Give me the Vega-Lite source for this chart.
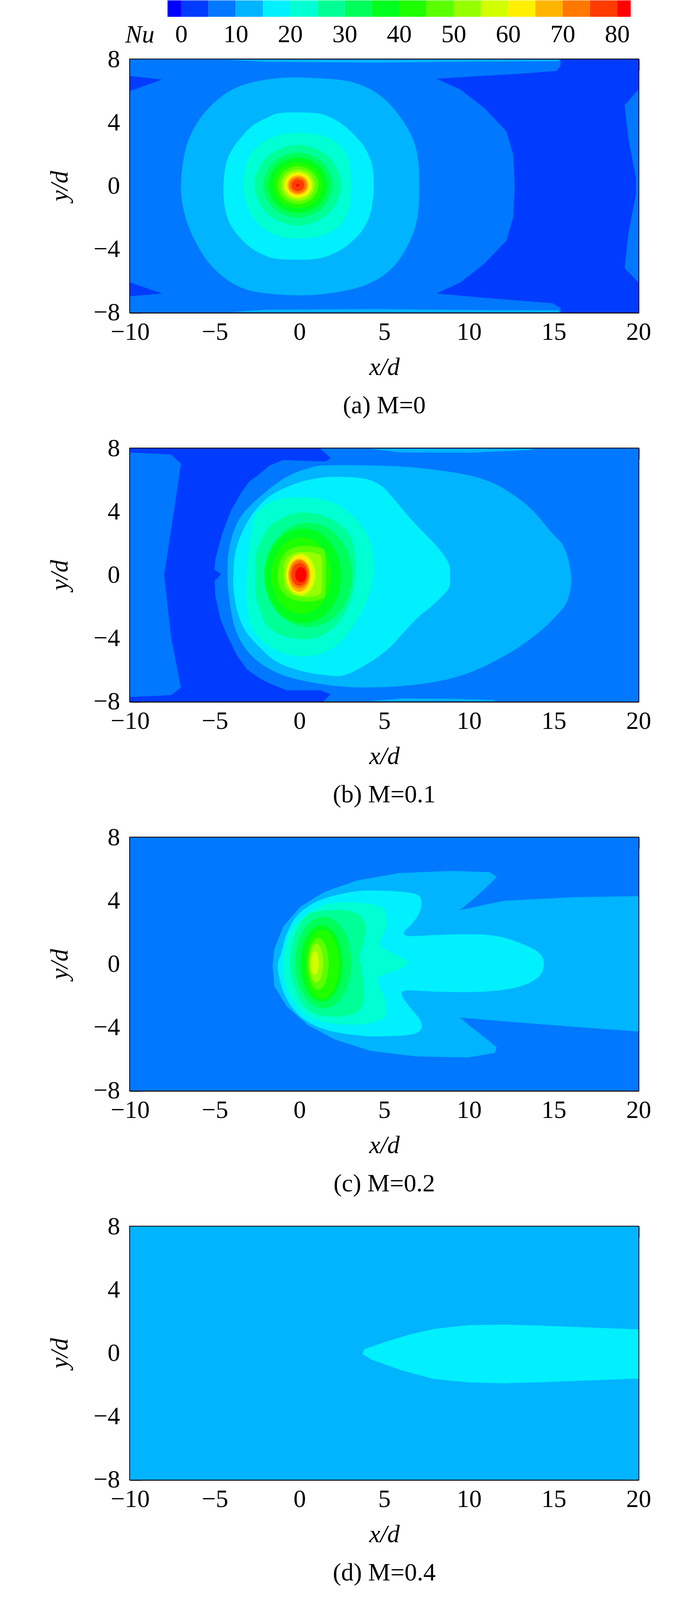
{
  "$schema": "https://vega.github.io/schema/vega-lite/v6.json",
  "padding": {"left": 119, "top": 1, "right": 40, "bottom": 0},
  "bounds": "flush",
  "spacing": 109,
  "config": {
    "font": "Liberation Serif",
    "view": {"stroke": "black", "strokeWidth": 4},
    "axis": {
      "labelFont": "Liberation Serif", "labelFontSize": 64, "labelColor": "black",
      "titleFont": "Liberation Serif", "titleFontSize": 64, "titleFontStyle": "italic", "titleFontWeight": "normal", "titleColor": "black",
      "domainColor": "black", "domainWidth": 4, "ticks": false,
      "grid": true, "gridColor": "black", "gridWidth": 4, "gridOpacity": 1,
      "labelFlush": false, "labelOverlap": false, "zindex": 1
    },
    "title": {"font": "Liberation Serif", "fontSize": 64, "fontWeight": "normal", "color": "black", "orient": "bottom", "frame": "group", "anchor": "middle", "offset": 35}
  },
  "datasets": {
    "gap": [{"v": 0}],
    "bar": [
      {"lo": -2.5, "hi": 0, "nu": -1.25}, {"lo": 0, "hi": 5, "nu": 2.5}, {"lo": 5, "hi": 10, "nu": 7.5},
      {"lo": 10, "hi": 15, "nu": 12.5}, {"lo": 15, "hi": 20, "nu": 17.5}, {"lo": 20, "hi": 25, "nu": 22.5},
      {"lo": 25, "hi": 30, "nu": 27.5}, {"lo": 30, "hi": 35, "nu": 32.5}, {"lo": 35, "hi": 40, "nu": 37.5},
      {"lo": 40, "hi": 45, "nu": 42.5}, {"lo": 45, "hi": 50, "nu": 47.5}, {"lo": 50, "hi": 55, "nu": 52.5},
      {"lo": 55, "hi": 60, "nu": 57.5}, {"lo": 60, "hi": 65, "nu": 62.5}, {"lo": 65, "hi": 70, "nu": 67.5},
      {"lo": 70, "hi": 75, "nu": 72.5}, {"lo": 75, "hi": 80, "nu": 77.5}, {"lo": 80, "hi": 82.5, "nu": 85}
    ],
    "a1": [
      {"id": "a01", "nu": 7.5, "x": -10, "y": 8}, {"id": "a01", "nu": 7.5, "x": 20, "y": 8}, {"id": "a01", "nu": 7.5, "x": 20, "y": -8}, {"id": "a01", "nu": 7.5, "x": -10, "y": -8},
      {"id": "a02", "nu": 2.5, "x": 8.07, "y": 6.77}, {"id": "a02", "nu": 2.5, "x": 10.67, "y": 6.95}, {"id": "a02", "nu": 2.5, "x": 13.03, "y": 7.09}, {"id": "a02", "nu": 2.5, "x": 15.16, "y": 7.27},
      {"id": "a02", "nu": 2.5, "x": 15.4, "y": 7.6}, {"id": "a02", "nu": 2.5, "x": 15.4, "y": 8}, {"id": "a02", "nu": 2.5, "x": 20, "y": 8}, {"id": "a02", "nu": 2.5, "x": 20, "y": -8},
      {"id": "a02", "nu": 2.5, "x": 15.4, "y": -8}, {"id": "a02", "nu": 2.5, "x": 15.4, "y": -7.7}, {"id": "a02", "nu": 2.5, "x": 14.9, "y": -7.41}, {"id": "a02", "nu": 2.5, "x": 10.67, "y": -7.05},
      {"id": "a02", "nu": 2.5, "x": 8.07, "y": -6.8}, {"id": "a02", "nu": 2.5, "x": 9.49, "y": -6.1}, {"id": "a02", "nu": 2.5, "x": 10.9, "y": -4.92}, {"id": "a02", "nu": 2.5, "x": 12.2, "y": -3.46},
      {"id": "a02", "nu": 2.5, "x": 12.6, "y": -2}, {"id": "a02", "nu": 2.5, "x": 12.7, "y": 0}, {"id": "a02", "nu": 2.5, "x": 12.6, "y": 2}, {"id": "a02", "nu": 2.5, "x": 12.2, "y": 3.46},
      {"id": "a02", "nu": 2.5, "x": 10.9, "y": 4.92}, {"id": "a02", "nu": 2.5, "x": 9.49, "y": 6.1},
      {"id": "a03", "nu": 7.5, "x": 20, "y": 6.1}, {"id": "a03", "nu": 7.5, "x": 19.18, "y": 5.1}, {"id": "a03", "nu": 7.5, "x": 19.4, "y": 3}, {"id": "a03", "nu": 7.5, "x": 19.85, "y": 0.5},
      {"id": "a03", "nu": 7.5, "x": 19.85, "y": -0.5}, {"id": "a03", "nu": 7.5, "x": 19.4, "y": -3}, {"id": "a03", "nu": 7.5, "x": 19.18, "y": -5.2}, {"id": "a03", "nu": 7.5, "x": 20, "y": -6.1},
      {"id": "a04", "nu": 2.5, "x": -10, "y": 6.95}, {"id": "a04", "nu": 2.5, "x": -8.1, "y": 6.73}, {"id": "a04", "nu": 2.5, "x": -10, "y": 6.0},
      {"id": "a05", "nu": 2.5, "x": -10, "y": -6.1}, {"id": "a05", "nu": 2.5, "x": -8.1, "y": -6.8}, {"id": "a05", "nu": 2.5, "x": -10, "y": -6.97},
      {"id": "a06", "nu": 12.5, "x": -4.2, "y": 7.97}, {"id": "a06", "nu": 12.5, "x": -2, "y": 7.84}, {"id": "a06", "nu": 12.5, "x": 4.5, "y": 7.79}, {"id": "a06", "nu": 12.5, "x": 10, "y": 7.85}, {"id": "a06", "nu": 12.5, "x": 15.3, "y": 7.88}, {"id": "a06", "nu": 12.5, "x": 15.3, "y": 7.97},
      {"id": "a07", "nu": 12.5, "x": -4, "y": -7.97}, {"id": "a07", "nu": 12.5, "x": -2, "y": -7.82}, {"id": "a07", "nu": 12.5, "x": 4.5, "y": -7.78}, {"id": "a07", "nu": 12.5, "x": 10, "y": -7.84}, {"id": "a07", "nu": 12.5, "x": 15.3, "y": -7.86}, {"id": "a07", "nu": 12.5, "x": 15.3, "y": -7.97}
    ],
    "a2": [
      {"id": "a10", "nu": 12.5, "x": -1.38, "y": 6.8}, {"id": "a10", "nu": 12.5, "x": 1.22, "y": 6.8}, {"id": "a10", "nu": 12.5, "x": 3.3, "y": 6.5}, {"id": "a10", "nu": 12.5, "x": 5.0, "y": 5.5},
      {"id": "a10", "nu": 12.5, "x": 6.42, "y": 3.55}, {"id": "a10", "nu": 12.5, "x": 7.0, "y": 1.6}, {"id": "a10", "nu": 12.5, "x": 7.0, "y": -1.6}, {"id": "a10", "nu": 12.5, "x": 6.5, "y": -3.5},
      {"id": "a10", "nu": 12.5, "x": 5.45, "y": -5.2}, {"id": "a10", "nu": 12.5, "x": 3.8, "y": -6.3}, {"id": "a10", "nu": 12.5, "x": 1.22, "y": -6.85}, {"id": "a10", "nu": 12.5, "x": -1.38, "y": -6.85},
      {"id": "a10", "nu": 12.5, "x": -3.5, "y": -6.4}, {"id": "a10", "nu": 12.5, "x": -5.16, "y": -5.1}, {"id": "a10", "nu": 12.5, "x": -6.34, "y": -3.1}, {"id": "a10", "nu": 12.5, "x": -6.93, "y": -1.0},
      {"id": "a10", "nu": 12.5, "x": -6.93, "y": 1.1}, {"id": "a10", "nu": 12.5, "x": -6.46, "y": 3.14}, {"id": "a10", "nu": 12.5, "x": -5.39, "y": 4.89}, {"id": "a10", "nu": 12.5, "x": -3.74, "y": 6.21},
      {"id": "a11", "nu": 17.5, "x": -1.08, "y": 4.62}, {"id": "a11", "nu": 17.5, "x": 0.77, "y": 4.62}, {"id": "a11", "nu": 17.5, "x": 1.61, "y": 4.43}, {"id": "a11", "nu": 17.5, "x": 2.53, "y": 3.89},
      {"id": "a11", "nu": 17.5, "x": 3.3, "y": 3.13}, {"id": "a11", "nu": 17.5, "x": 3.92, "y": 2.29}, {"id": "a11", "nu": 17.5, "x": 4.3, "y": 1.22}, {"id": "a11", "nu": 17.5, "x": 4.38, "y": 0},
      {"id": "a11", "nu": 17.5, "x": 4.34, "y": -0.76}, {"id": "a11", "nu": 17.5, "x": 4.15, "y": -1.83}, {"id": "a11", "nu": 17.5, "x": 3.69, "y": -2.82}, {"id": "a11", "nu": 17.5, "x": 3.0, "y": -3.59},
      {"id": "a11", "nu": 17.5, "x": 2.15, "y": -4.2}, {"id": "a11", "nu": 17.5, "x": 0.92, "y": -4.62}, {"id": "a11", "nu": 17.5, "x": -1.23, "y": -4.62}, {"id": "a11", "nu": 17.5, "x": -2.3, "y": -4.27},
      {"id": "a11", "nu": 17.5, "x": -3.07, "y": -3.74}, {"id": "a11", "nu": 17.5, "x": -3.69, "y": -3.05}, {"id": "a11", "nu": 17.5, "x": -4.15, "y": -2.29}, {"id": "a11", "nu": 17.5, "x": -4.42, "y": -1.3},
      {"id": "a11", "nu": 17.5, "x": -4.49, "y": 0}, {"id": "a11", "nu": 17.5, "x": -4.34, "y": 1.37}, {"id": "a11", "nu": 17.5, "x": -3.99, "y": 2.29}, {"id": "a11", "nu": 17.5, "x": -3.46, "y": 3.05},
      {"id": "a11", "nu": 17.5, "x": -2.76, "y": 3.82}, {"id": "a11", "nu": 17.5, "x": -1.84, "y": 4.35},
      {"id": "a12", "nu": 22.5, "x": -0.61, "y": 3.32}, {"id": "a12", "nu": 22.5, "x": 0.61, "y": 3.32}, {"id": "a12", "nu": 22.5, "x": 1.69, "y": 3.05}, {"id": "a12", "nu": 22.5, "x": 2.46, "y": 2.44},
      {"id": "a12", "nu": 22.5, "x": 2.92, "y": 1.53}, {"id": "a12", "nu": 22.5, "x": 3.03, "y": 0}, {"id": "a12", "nu": 22.5, "x": 2.92, "y": -1.37}, {"id": "a12", "nu": 22.5, "x": 2.46, "y": -2.37},
      {"id": "a12", "nu": 22.5, "x": 1.69, "y": -2.98}, {"id": "a12", "nu": 22.5, "x": 0.61, "y": -3.28}, {"id": "a12", "nu": 22.5, "x": -0.61, "y": -3.28}, {"id": "a12", "nu": 22.5, "x": -1.69, "y": -2.98},
      {"id": "a12", "nu": 22.5, "x": -2.53, "y": -2.29}, {"id": "a12", "nu": 22.5, "x": -3.07, "y": -1.37}, {"id": "a12", "nu": 22.5, "x": -3.3, "y": 0}, {"id": "a12", "nu": 22.5, "x": -3.15, "y": 1.37},
      {"id": "a12", "nu": 22.5, "x": -2.61, "y": 2.37}, {"id": "a12", "nu": 22.5, "x": -1.69, "y": 3.05},
      {"id": "a13", "nu": 27.5, "x": 2.45, "y": 0.05}, {"id": "a13", "nu": 27.5, "x": 1.7, "y": 1.85}, {"id": "a13", "nu": 27.5, "x": -0.1, "y": 2.6}, {"id": "a13", "nu": 27.5, "x": -1.9, "y": 1.85},
      {"id": "a13", "nu": 27.5, "x": -2.65, "y": 0.05}, {"id": "a13", "nu": 27.5, "x": -1.9, "y": -1.75}, {"id": "a13", "nu": 27.5, "x": -0.1, "y": -2.5}, {"id": "a13", "nu": 27.5, "x": 1.7, "y": -1.75},
      {"id": "a14", "nu": 32.5, "x": 1.95, "y": 0.05}, {"id": "a14", "nu": 32.5, "x": 1.35, "y": 1.5}, {"id": "a14", "nu": 32.5, "x": -0.1, "y": 2.1}, {"id": "a14", "nu": 32.5, "x": -1.55, "y": 1.5},
      {"id": "a14", "nu": 32.5, "x": -2.15, "y": 0.05}, {"id": "a14", "nu": 32.5, "x": -1.55, "y": -1.4}, {"id": "a14", "nu": 32.5, "x": -0.1, "y": -2.0}, {"id": "a14", "nu": 32.5, "x": 1.35, "y": -1.4},
      {"id": "a15", "nu": 37.5, "x": 1.65, "y": 0.05}, {"id": "a15", "nu": 37.5, "x": 1.14, "y": 1.29}, {"id": "a15", "nu": 37.5, "x": -0.1, "y": 1.8}, {"id": "a15", "nu": 37.5, "x": -1.34, "y": 1.29},
      {"id": "a15", "nu": 37.5, "x": -1.85, "y": 0.05}, {"id": "a15", "nu": 37.5, "x": -1.34, "y": -1.19}, {"id": "a15", "nu": 37.5, "x": -0.1, "y": -1.7}, {"id": "a15", "nu": 37.5, "x": 1.14, "y": -1.19},
      {"id": "a16", "nu": 42.5, "x": 1.35, "y": 0.05}, {"id": "a16", "nu": 42.5, "x": 0.93, "y": 1.08}, {"id": "a16", "nu": 42.5, "x": -0.1, "y": 1.5}, {"id": "a16", "nu": 42.5, "x": -1.13, "y": 1.08},
      {"id": "a16", "nu": 42.5, "x": -1.55, "y": 0.05}, {"id": "a16", "nu": 42.5, "x": -1.13, "y": -0.98}, {"id": "a16", "nu": 42.5, "x": -0.1, "y": -1.4}, {"id": "a16", "nu": 42.5, "x": 0.93, "y": -0.98},
      {"id": "a17", "nu": 47.5, "x": 1.1, "y": 0.05}, {"id": "a17", "nu": 47.5, "x": 0.75, "y": 0.9}, {"id": "a17", "nu": 47.5, "x": -0.1, "y": 1.25}, {"id": "a17", "nu": 47.5, "x": -0.95, "y": 0.9},
      {"id": "a17", "nu": 47.5, "x": -1.3, "y": 0.05}, {"id": "a17", "nu": 47.5, "x": -0.95, "y": -0.8}, {"id": "a17", "nu": 47.5, "x": -0.1, "y": -1.15}, {"id": "a17", "nu": 47.5, "x": 0.75, "y": -0.8},
      {"id": "a18", "nu": 52.5, "x": 0.9, "y": 0.05}, {"id": "a18", "nu": 52.5, "x": 0.61, "y": 0.76}, {"id": "a18", "nu": 52.5, "x": -0.1, "y": 1.05}, {"id": "a18", "nu": 52.5, "x": -0.81, "y": 0.76},
      {"id": "a18", "nu": 52.5, "x": -1.1, "y": 0.05}, {"id": "a18", "nu": 52.5, "x": -0.81, "y": -0.66}, {"id": "a18", "nu": 52.5, "x": -0.1, "y": -0.95}, {"id": "a18", "nu": 52.5, "x": 0.61, "y": -0.66},
      {"id": "a19", "nu": 57.5, "x": 0.75, "y": 0.05}, {"id": "a19", "nu": 57.5, "x": 0.5, "y": 0.65}, {"id": "a19", "nu": 57.5, "x": -0.1, "y": 0.9}, {"id": "a19", "nu": 57.5, "x": -0.7, "y": 0.65},
      {"id": "a19", "nu": 57.5, "x": -0.95, "y": 0.05}, {"id": "a19", "nu": 57.5, "x": -0.7, "y": -0.55}, {"id": "a19", "nu": 57.5, "x": -0.1, "y": -0.8}, {"id": "a19", "nu": 57.5, "x": 0.5, "y": -0.55},
      {"id": "a20", "nu": 62.5, "x": 0.65, "y": 0.05}, {"id": "a20", "nu": 62.5, "x": 0.43, "y": 0.58}, {"id": "a20", "nu": 62.5, "x": -0.1, "y": 0.8}, {"id": "a20", "nu": 62.5, "x": -0.63, "y": 0.58},
      {"id": "a20", "nu": 62.5, "x": -0.85, "y": 0.05}, {"id": "a20", "nu": 62.5, "x": -0.63, "y": -0.48}, {"id": "a20", "nu": 62.5, "x": -0.1, "y": -0.7}, {"id": "a20", "nu": 62.5, "x": 0.43, "y": -0.48},
      {"id": "a21", "nu": 67.5, "x": 0.52, "y": 0.05}, {"id": "a21", "nu": 67.5, "x": 0.34, "y": 0.49}, {"id": "a21", "nu": 67.5, "x": -0.1, "y": 0.67}, {"id": "a21", "nu": 67.5, "x": -0.54, "y": 0.49},
      {"id": "a21", "nu": 67.5, "x": -0.72, "y": 0.05}, {"id": "a21", "nu": 67.5, "x": -0.54, "y": -0.39}, {"id": "a21", "nu": 67.5, "x": -0.1, "y": -0.57}, {"id": "a21", "nu": 67.5, "x": 0.34, "y": -0.39},
      {"id": "a22", "nu": 72.5, "x": 0.42, "y": 0.05}, {"id": "a22", "nu": 72.5, "x": 0.27, "y": 0.42}, {"id": "a22", "nu": 72.5, "x": -0.1, "y": 0.57}, {"id": "a22", "nu": 72.5, "x": -0.47, "y": 0.42},
      {"id": "a22", "nu": 72.5, "x": -0.62, "y": 0.05}, {"id": "a22", "nu": 72.5, "x": -0.47, "y": -0.32}, {"id": "a22", "nu": 72.5, "x": -0.1, "y": -0.47}, {"id": "a22", "nu": 72.5, "x": 0.27, "y": -0.32},
      {"id": "a23", "nu": 77.5, "x": 0.28, "y": 0.05}, {"id": "a23", "nu": 77.5, "x": 0.17, "y": 0.32}, {"id": "a23", "nu": 77.5, "x": -0.1, "y": 0.43}, {"id": "a23", "nu": 77.5, "x": -0.37, "y": 0.32},
      {"id": "a23", "nu": 77.5, "x": -0.48, "y": 0.05}, {"id": "a23", "nu": 77.5, "x": -0.37, "y": -0.22}, {"id": "a23", "nu": 77.5, "x": -0.1, "y": -0.33}, {"id": "a23", "nu": 77.5, "x": 0.17, "y": -0.22},
      {"id": "a24", "nu": 85, "x": 0.0, "y": 0.05}, {"id": "a24", "nu": 85, "x": -0.1, "y": 0.15}, {"id": "a24", "nu": 85, "x": -0.2, "y": 0.05}, {"id": "a24", "nu": 85, "x": -0.1, "y": -0.05}
    ],
    "b1": [
      {"id": "b01", "nu": 7.5, "x": -10, "y": 8}, {"id": "b01", "nu": 7.5, "x": 20, "y": 8}, {"id": "b01", "nu": 7.5, "x": 20, "y": -8}, {"id": "b01", "nu": 7.5, "x": -10, "y": -8},
      {"id": "b02", "nu": 2.5, "x": -10, "y": 8}, {"id": "b02", "nu": 2.5, "x": 1.22, "y": 8}, {"id": "b02", "nu": 2.5, "x": 1.84, "y": 7.39}, {"id": "b02", "nu": 2.5, "x": 1.53, "y": 7.17},
      {"id": "b02", "nu": 2.5, "x": 0.5, "y": 7.21}, {"id": "b02", "nu": 2.5, "x": -0.95, "y": 7.27}, {"id": "b02", "nu": 2.5, "x": -1.78, "y": 6.92}, {"id": "b02", "nu": 2.5, "x": -2.4, "y": 6.35},
      {"id": "b02", "nu": 2.5, "x": -2.97, "y": 5.9}, {"id": "b02", "nu": 2.5, "x": -3.44, "y": 5.21}, {"id": "b02", "nu": 2.5, "x": -4.05, "y": 4.06}, {"id": "b02", "nu": 2.5, "x": -4.59, "y": 2.53},
      {"id": "b02", "nu": 2.5, "x": -4.97, "y": 1.0}, {"id": "b02", "nu": 2.5, "x": -5.02, "y": 0.35}, {"id": "b02", "nu": 2.5, "x": -4.63, "y": 0.05}, {"id": "b02", "nu": 2.5, "x": -5.01, "y": -0.38},
      {"id": "b02", "nu": 2.5, "x": -4.97, "y": -1.3}, {"id": "b02", "nu": 2.5, "x": -4.66, "y": -2.83}, {"id": "b02", "nu": 2.5, "x": -4.2, "y": -3.98}, {"id": "b02", "nu": 2.5, "x": -3.67, "y": -5.13},
      {"id": "b02", "nu": 2.5, "x": -3.1, "y": -5.97}, {"id": "b02", "nu": 2.5, "x": -2.4, "y": -6.5}, {"id": "b02", "nu": 2.5, "x": -1.78, "y": -6.85}, {"id": "b02", "nu": 2.5, "x": -0.75, "y": -7.29},
      {"id": "b02", "nu": 2.5, "x": 1.22, "y": -7.29}, {"id": "b02", "nu": 2.5, "x": 1.84, "y": -7.53}, {"id": "b02", "nu": 2.5, "x": 1.4, "y": -8}, {"id": "b02", "nu": 2.5, "x": -10, "y": -8},
      {"id": "b03", "nu": 7.5, "x": -10, "y": 7.74}, {"id": "b03", "nu": 7.5, "x": -7.58, "y": 7.62}, {"id": "b03", "nu": 7.5, "x": -7.0, "y": 7.03}, {"id": "b03", "nu": 7.5, "x": -7.37, "y": 4.32},
      {"id": "b03", "nu": 7.5, "x": -7.99, "y": 0}, {"id": "b03", "nu": 7.5, "x": -7.58, "y": -3.93}, {"id": "b03", "nu": 7.5, "x": -7.0, "y": -7.12}, {"id": "b03", "nu": 7.5, "x": -7.58, "y": -7.59},
      {"id": "b03", "nu": 7.5, "x": -10, "y": -7.71},
      {"id": "b04", "nu": 12.5, "x": 4.2, "y": 7.97}, {"id": "b04", "nu": 12.5, "x": 6, "y": 7.75}, {"id": "b04", "nu": 12.5, "x": 10, "y": 7.72}, {"id": "b04", "nu": 12.5, "x": 13.7, "y": 7.9}, {"id": "b04", "nu": 12.5, "x": 13.7, "y": 7.97},
      {"id": "b05", "nu": 12.5, "x": 4.2, "y": -7.97}, {"id": "b05", "nu": 12.5, "x": 6, "y": -7.8}, {"id": "b05", "nu": 12.5, "x": 9, "y": -7.82}, {"id": "b05", "nu": 12.5, "x": 11.5, "y": -7.9}, {"id": "b05", "nu": 12.5, "x": 11.5, "y": -7.97}
    ],
    "b2": [
      {"id": "b10", "nu": 12.5, "x": 1.74, "y": 6.94}, {"id": "b10", "nu": 12.5, "x": 5.88, "y": 6.86}, {"id": "b10", "nu": 12.5, "x": 8.99, "y": 6.5}, {"id": "b10", "nu": 12.5, "x": 11.06, "y": 5.97},
      {"id": "b10", "nu": 12.5, "x": 12.5, "y": 5.15}, {"id": "b10", "nu": 12.5, "x": 13.75, "y": 4.08}, {"id": "b10", "nu": 12.5, "x": 14.78, "y": 2.79}, {"id": "b10", "nu": 12.5, "x": 15.61, "y": 1.73},
      {"id": "b10", "nu": 12.5, "x": 16.02, "y": 0}, {"id": "b10", "nu": 12.5, "x": 15.82, "y": -1.58}, {"id": "b10", "nu": 12.5, "x": 14.99, "y": -2.75}, {"id": "b10", "nu": 12.5, "x": 13.75, "y": -3.93},
      {"id": "b10", "nu": 12.5, "x": 12.09, "y": -5.11}, {"id": "b10", "nu": 12.5, "x": 10.02, "y": -6.17}, {"id": "b10", "nu": 12.5, "x": 7.95, "y": -6.76}, {"id": "b10", "nu": 12.5, "x": 5.47, "y": -7.06},
      {"id": "b10", "nu": 12.5, "x": 2.57, "y": -7.06}, {"id": "b10", "nu": 12.5, "x": 0.08, "y": -6.65}, {"id": "b10", "nu": 12.5, "x": -1.57, "y": -6.06}, {"id": "b10", "nu": 12.5, "x": -2.82, "y": -5.11},
      {"id": "b10", "nu": 12.5, "x": -3.64, "y": -3.82}, {"id": "b10", "nu": 12.5, "x": -4.06, "y": -2.17}, {"id": "b10", "nu": 12.5, "x": -4.25, "y": 0}, {"id": "b10", "nu": 12.5, "x": -4.1, "y": 1.96},
      {"id": "b10", "nu": 12.5, "x": -3.44, "y": 3.73}, {"id": "b10", "nu": 12.5, "x": -1.99, "y": 5.26}, {"id": "b10", "nu": 12.5, "x": -0.75, "y": 6.21}, {"id": "b10", "nu": 12.5, "x": 0.5, "y": 6.74},
      {"id": "b11", "nu": 17.5, "x": 2.15, "y": 6.21}, {"id": "b11", "nu": 17.5, "x": 3.81, "y": 6.09}, {"id": "b11", "nu": 17.5, "x": 4.84, "y": 5.62}, {"id": "b11", "nu": 17.5, "x": 5.67, "y": 4.67},
      {"id": "b11", "nu": 17.5, "x": 6.5, "y": 3.61}, {"id": "b11", "nu": 17.5, "x": 7.33, "y": 2.67}, {"id": "b11", "nu": 17.5, "x": 8.16, "y": 1.73}, {"id": "b11", "nu": 17.5, "x": 8.78, "y": 0.78},
      {"id": "b11", "nu": 17.5, "x": 8.88, "y": 0}, {"id": "b11", "nu": 17.5, "x": 8.78, "y": -0.87}, {"id": "b11", "nu": 17.5, "x": 7.95, "y": -1.81}, {"id": "b11", "nu": 17.5, "x": 6.92, "y": -2.75},
      {"id": "b11", "nu": 17.5, "x": 6.09, "y": -3.7}, {"id": "b11", "nu": 17.5, "x": 5.26, "y": -4.64}, {"id": "b11", "nu": 17.5, "x": 4.22, "y": -5.47}, {"id": "b11", "nu": 17.5, "x": 2.77, "y": -6.29},
      {"id": "b11", "nu": 17.5, "x": 1.74, "y": -6.35}, {"id": "b11", "nu": 17.5, "x": 0.08, "y": -6.06}, {"id": "b11", "nu": 17.5, "x": -1.37, "y": -5.47}, {"id": "b11", "nu": 17.5, "x": -2.4, "y": -4.52},
      {"id": "b11", "nu": 17.5, "x": -3.23, "y": -3.46}, {"id": "b11", "nu": 17.5, "x": -3.7, "y": -2.17}, {"id": "b11", "nu": 17.5, "x": -3.9, "y": -0.87}, {"id": "b11", "nu": 17.5, "x": -3.9, "y": 0},
      {"id": "b11", "nu": 17.5, "x": -3.8, "y": 1.37}, {"id": "b11", "nu": 17.5, "x": -3.4, "y": 2.67}, {"id": "b11", "nu": 17.5, "x": -2.7, "y": 3.97}, {"id": "b11", "nu": 17.5, "x": -1.7, "y": 5.03},
      {"id": "b11", "nu": 17.5, "x": -0.33, "y": 5.74}, {"id": "b11", "nu": 17.5, "x": 0.91, "y": 6.09},
      {"id": "b12", "nu": 22.5, "x": -2.51, "y": 3.99}, {"id": "b12", "nu": 22.5, "x": -1.36, "y": 4.75}, {"id": "b12", "nu": 22.5, "x": 0.17, "y": 4.91}, {"id": "b12", "nu": 22.5, "x": 1.71, "y": 4.68},
      {"id": "b12", "nu": 22.5, "x": 2.86, "y": 3.99}, {"id": "b12", "nu": 22.5, "x": 3.78, "y": 2.91}, {"id": "b12", "nu": 22.5, "x": 4.24, "y": 1.77}, {"id": "b12", "nu": 22.5, "x": 4.36, "y": 0.62},
      {"id": "b12", "nu": 22.5, "x": 4.28, "y": -0.53}, {"id": "b12", "nu": 22.5, "x": 3.94, "y": -1.68}, {"id": "b12", "nu": 22.5, "x": 3.4, "y": -2.83}, {"id": "b12", "nu": 22.5, "x": 2.63, "y": -3.98},
      {"id": "b12", "nu": 22.5, "x": 1.71, "y": -4.75}, {"id": "b12", "nu": 22.5, "x": 0.56, "y": -5.13}, {"id": "b12", "nu": 22.5, "x": -0.59, "y": -5.05}, {"id": "b12", "nu": 22.5, "x": -1.67, "y": -4.59},
      {"id": "b12", "nu": 22.5, "x": -2.44, "y": -3.9}, {"id": "b12", "nu": 22.5, "x": -2.9, "y": -3.06}, {"id": "b12", "nu": 22.5, "x": -3.13, "y": -1.68}, {"id": "b12", "nu": 22.5, "x": -3.13, "y": -0.15},
      {"id": "b12", "nu": 22.5, "x": -3.01, "y": 1.38}, {"id": "b12", "nu": 22.5, "x": -2.82, "y": 2.69},
      {"id": "b13", "nu": 27.5, "x": 0.17, "y": 3.95}, {"id": "b13", "nu": 27.5, "x": 1.33, "y": 3.76}, {"id": "b13", "nu": 27.5, "x": 2.32, "y": 3.22}, {"id": "b13", "nu": 27.5, "x": 2.94, "y": 2.53},
      {"id": "b13", "nu": 27.5, "x": 3.25, "y": 1.38}, {"id": "b13", "nu": 27.5, "x": 3.28, "y": 0}, {"id": "b13", "nu": 27.5, "x": 3.09, "y": -1.3}, {"id": "b13", "nu": 27.5, "x": 2.71, "y": -2.3},
      {"id": "b13", "nu": 27.5, "x": 2.09, "y": -3.22}, {"id": "b13", "nu": 27.5, "x": 1.17, "y": -3.9}, {"id": "b13", "nu": 27.5, "x": 0.17, "y": -4.06}, {"id": "b13", "nu": 27.5, "x": -0.98, "y": -3.83},
      {"id": "b13", "nu": 27.5, "x": -1.9, "y": -3.22}, {"id": "b13", "nu": 27.5, "x": -2.3, "y": -2.3}, {"id": "b13", "nu": 27.5, "x": -2.6, "y": -1.15}, {"id": "b13", "nu": 27.5, "x": -2.62, "y": 0},
      {"id": "b13", "nu": 27.5, "x": -2.55, "y": 1.38}, {"id": "b13", "nu": 27.5, "x": -2.2, "y": 2.3}, {"id": "b13", "nu": 27.5, "x": -1.82, "y": 2.99}, {"id": "b13", "nu": 27.5, "x": -0.9, "y": 3.68},
      {"id": "b14", "nu": 32.5, "x": 3.1, "y": 0}, {"id": "b14", "nu": 32.5, "x": 2.75, "y": 1.65}, {"id": "b14", "nu": 32.5, "x": 1.8, "y": 2.86}, {"id": "b14", "nu": 32.5, "x": 0.5, "y": 3.3},
      {"id": "b14", "nu": 32.5, "x": -0.8, "y": 2.86}, {"id": "b14", "nu": 32.5, "x": -1.75, "y": 1.65}, {"id": "b14", "nu": 32.5, "x": -2.1, "y": 0}, {"id": "b14", "nu": 32.5, "x": -1.75, "y": -1.65},
      {"id": "b14", "nu": 32.5, "x": -0.8, "y": -2.86}, {"id": "b14", "nu": 32.5, "x": 0.5, "y": -3.3}, {"id": "b14", "nu": 32.5, "x": 1.8, "y": -2.86}, {"id": "b14", "nu": 32.5, "x": 2.75, "y": -1.65},
      {"id": "b15", "nu": 37.5, "x": 2.45, "y": -0.05}, {"id": "b15", "nu": 37.5, "x": 2.15, "y": 1.45}, {"id": "b15", "nu": 37.5, "x": 1.33, "y": 2.55}, {"id": "b15", "nu": 37.5, "x": 0.2, "y": 2.95},
      {"id": "b15", "nu": 37.5, "x": -0.93, "y": 2.55}, {"id": "b15", "nu": 37.5, "x": -1.75, "y": 1.45}, {"id": "b15", "nu": 37.5, "x": -2.05, "y": -0.05}, {"id": "b15", "nu": 37.5, "x": -1.75, "y": -1.55},
      {"id": "b15", "nu": 37.5, "x": -0.93, "y": -2.65}, {"id": "b15", "nu": 37.5, "x": 0.2, "y": -3.05}, {"id": "b15", "nu": 37.5, "x": 1.33, "y": -2.65}, {"id": "b15", "nu": 37.5, "x": 2.15, "y": -1.55},
      {"id": "b16", "nu": 42.5, "x": 1.87, "y": -0.03}, {"id": "b16", "nu": 42.5, "x": 1.63, "y": 1.18}, {"id": "b16", "nu": 42.5, "x": 0.99, "y": 2.07}, {"id": "b16", "nu": 42.5, "x": 0.1, "y": 2.39},
      {"id": "b16", "nu": 42.5, "x": -0.79, "y": 2.07}, {"id": "b16", "nu": 42.5, "x": -1.43, "y": 1.18}, {"id": "b16", "nu": 42.5, "x": -1.67, "y": -0.03}, {"id": "b16", "nu": 42.5, "x": -1.43, "y": -1.24},
      {"id": "b16", "nu": 42.5, "x": -0.79, "y": -2.13}, {"id": "b16", "nu": 42.5, "x": 0.1, "y": -2.45}, {"id": "b16", "nu": 42.5, "x": 0.99, "y": -2.13}, {"id": "b16", "nu": 42.5, "x": 1.63, "y": -1.24},
      {"id": "b17", "nu": 47.5, "x": 1.52, "y": 1.3}, {"id": "b17", "nu": 47.5, "x": 1.52, "y": -1.1}, {"id": "b17", "nu": 47.5, "x": 1.2, "y": -1.55}, {"id": "b17", "nu": 47.5, "x": 0.3, "y": -1.68},
      {"id": "b17", "nu": 47.5, "x": -0.6, "y": -1.45}, {"id": "b17", "nu": 47.5, "x": -1.15, "y": -0.8}, {"id": "b17", "nu": 47.5, "x": -1.28, "y": 0.1}, {"id": "b17", "nu": 47.5, "x": -1.1, "y": 1.0},
      {"id": "b17", "nu": 47.5, "x": -0.55, "y": 1.65}, {"id": "b17", "nu": 47.5, "x": 0.3, "y": 1.84}, {"id": "b17", "nu": 47.5, "x": 1.2, "y": 1.7},
      {"id": "b18", "nu": 52.5, "x": 1.3, "y": 1.0}, {"id": "b18", "nu": 52.5, "x": 1.3, "y": -0.9}, {"id": "b18", "nu": 52.5, "x": 1.0, "y": -1.3}, {"id": "b18", "nu": 52.5, "x": 0.2, "y": -1.38},
      {"id": "b18", "nu": 52.5, "x": -0.5, "y": -1.2}, {"id": "b18", "nu": 52.5, "x": -0.9, "y": -0.6}, {"id": "b18", "nu": 52.5, "x": -0.98, "y": 0.1}, {"id": "b18", "nu": 52.5, "x": -0.85, "y": 0.85},
      {"id": "b18", "nu": 52.5, "x": -0.4, "y": 1.35}, {"id": "b18", "nu": 52.5, "x": 0.3, "y": 1.46}, {"id": "b18", "nu": 52.5, "x": 1.0, "y": 1.35},
      {"id": "b19", "nu": 57.5, "x": 0.94, "y": 0.02}, {"id": "b19", "nu": 57.5, "x": 0.68, "y": 0.96}, {"id": "b19", "nu": 57.5, "x": 0.06, "y": 1.35}, {"id": "b19", "nu": 57.5, "x": -0.56, "y": 0.96},
      {"id": "b19", "nu": 57.5, "x": -0.82, "y": 0.02}, {"id": "b19", "nu": 57.5, "x": -0.56, "y": -0.92}, {"id": "b19", "nu": 57.5, "x": 0.06, "y": -1.31}, {"id": "b19", "nu": 57.5, "x": 0.68, "y": -0.92},
      {"id": "b20", "nu": 62.5, "x": 0.79, "y": 0.03}, {"id": "b20", "nu": 62.5, "x": 0.56, "y": 0.88}, {"id": "b20", "nu": 62.5, "x": 0.02, "y": 1.23}, {"id": "b20", "nu": 62.5, "x": -0.52, "y": 0.88},
      {"id": "b20", "nu": 62.5, "x": -0.75, "y": 0.03}, {"id": "b20", "nu": 62.5, "x": -0.52, "y": -0.82}, {"id": "b20", "nu": 62.5, "x": 0.02, "y": -1.17}, {"id": "b20", "nu": 62.5, "x": 0.56, "y": -0.82},
      {"id": "b21", "nu": 67.5, "x": 0.63, "y": -0.01}, {"id": "b21", "nu": 67.5, "x": 0.44, "y": 0.73}, {"id": "b21", "nu": 67.5, "x": -0.02, "y": 1.04}, {"id": "b21", "nu": 67.5, "x": -0.48, "y": 0.73},
      {"id": "b21", "nu": 67.5, "x": -0.67, "y": -0.01}, {"id": "b21", "nu": 67.5, "x": -0.48, "y": -0.75}, {"id": "b21", "nu": 67.5, "x": -0.02, "y": -1.06}, {"id": "b21", "nu": 67.5, "x": 0.44, "y": -0.75},
      {"id": "b22", "nu": 72.5, "x": 0.57, "y": 0.05}, {"id": "b22", "nu": 72.5, "x": 0.4, "y": 0.69}, {"id": "b22", "nu": 72.5, "x": -0.01, "y": 0.95}, {"id": "b22", "nu": 72.5, "x": -0.42, "y": 0.69},
      {"id": "b22", "nu": 72.5, "x": -0.59, "y": 0.05}, {"id": "b22", "nu": 72.5, "x": -0.42, "y": -0.59}, {"id": "b22", "nu": 72.5, "x": -0.01, "y": -0.85}, {"id": "b22", "nu": 72.5, "x": 0.4, "y": -0.59},
      {"id": "b23", "nu": 77.5, "x": 0.48, "y": 0.04}, {"id": "b23", "nu": 77.5, "x": 0.34, "y": 0.56}, {"id": "b23", "nu": 77.5, "x": 0, "y": 0.77}, {"id": "b23", "nu": 77.5, "x": -0.34, "y": 0.56},
      {"id": "b23", "nu": 77.5, "x": -0.48, "y": 0.04}, {"id": "b23", "nu": 77.5, "x": -0.34, "y": -0.48}, {"id": "b23", "nu": 77.5, "x": 0, "y": -0.69}, {"id": "b23", "nu": 77.5, "x": 0.34, "y": -0.48},
      {"id": "b24", "nu": 85, "x": 0.39, "y": 0.02}, {"id": "b24", "nu": 85, "x": 0.3, "y": 0.36}, {"id": "b24", "nu": 85, "x": 0.07, "y": 0.5}, {"id": "b24", "nu": 85, "x": -0.16, "y": 0.36},
      {"id": "b24", "nu": 85, "x": -0.25, "y": 0.02}, {"id": "b24", "nu": 85, "x": -0.16, "y": -0.32}, {"id": "b24", "nu": 85, "x": 0.07, "y": -0.46}, {"id": "b24", "nu": 85, "x": 0.3, "y": -0.32}
    ],
    "c1": [
      {"id": "c01", "nu": 7.5, "x": -10, "y": 8}, {"id": "c01", "nu": 7.5, "x": 20, "y": 8}, {"id": "c01", "nu": 7.5, "x": 20, "y": -8}, {"id": "c01", "nu": 7.5, "x": -10, "y": -8},
      {"id": "c02", "nu": 12.5, "x": 20, "y": 4.29}, {"id": "c02", "nu": 12.5, "x": 16.18, "y": 4.23}, {"id": "c02", "nu": 12.5, "x": 12.05, "y": 4.0}, {"id": "c02", "nu": 12.5, "x": 9.46, "y": 3.41},
      {"id": "c02", "nu": 12.5, "x": 10.39, "y": 4.23}, {"id": "c02", "nu": 12.5, "x": 11.22, "y": 5.05}, {"id": "c02", "nu": 12.5, "x": 11.63, "y": 5.52}, {"id": "c02", "nu": 12.5, "x": 11.22, "y": 5.81},
      {"id": "c02", "nu": 12.5, "x": 8.95, "y": 5.89}, {"id": "c02", "nu": 12.5, "x": 5.85, "y": 5.75}, {"id": "c02", "nu": 12.5, "x": 3.37, "y": 5.28}, {"id": "c02", "nu": 12.5, "x": 1.51, "y": 4.58},
      {"id": "c02", "nu": 12.5, "x": 0.06, "y": 3.64}, {"id": "c02", "nu": 12.5, "x": -0.97, "y": 2.36}, {"id": "c02", "nu": 12.5, "x": -1.49, "y": 0.95}, {"id": "c02", "nu": 12.5, "x": -1.59, "y": -0.1},
      {"id": "c02", "nu": 12.5, "x": -1.49, "y": -1.39}, {"id": "c02", "nu": 12.5, "x": -0.76, "y": -2.68}, {"id": "c02", "nu": 12.5, "x": 0.48, "y": -3.85}, {"id": "c02", "nu": 12.5, "x": 2.13, "y": -4.79},
      {"id": "c02", "nu": 12.5, "x": 4.19, "y": -5.49}, {"id": "c02", "nu": 12.5, "x": 6.88, "y": -5.84}, {"id": "c02", "nu": 12.5, "x": 9.98, "y": -5.9}, {"id": "c02", "nu": 12.5, "x": 11.53, "y": -5.61},
      {"id": "c02", "nu": 12.5, "x": 11.63, "y": -5.26}, {"id": "c02", "nu": 12.5, "x": 10.81, "y": -4.55}, {"id": "c02", "nu": 12.5, "x": 9.98, "y": -3.85}, {"id": "c02", "nu": 12.5, "x": 9.46, "y": -3.38},
      {"id": "c02", "nu": 12.5, "x": 12.05, "y": -3.62}, {"id": "c02", "nu": 12.5, "x": 16.18, "y": -3.97}, {"id": "c02", "nu": 12.5, "x": 20, "y": -4.26}
    ],
    "c2": [
      {"id": "c10", "nu": 17.5, "x": 3.78, "y": 4.64}, {"id": "c10", "nu": 17.5, "x": 5.85, "y": 4.58}, {"id": "c10", "nu": 17.5, "x": 6.88, "y": 4.41}, {"id": "c10", "nu": 17.5, "x": 7.19, "y": 4.0},
      {"id": "c10", "nu": 17.5, "x": 7.09, "y": 3.29}, {"id": "c10", "nu": 17.5, "x": 6.67, "y": 2.59}, {"id": "c10", "nu": 17.5, "x": 6.16, "y": 2.0}, {"id": "c10", "nu": 17.5, "x": 6.47, "y": 1.77},
      {"id": "c10", "nu": 17.5, "x": 7.91, "y": 1.83}, {"id": "c10", "nu": 17.5, "x": 9.98, "y": 1.89}, {"id": "c10", "nu": 17.5, "x": 11.63, "y": 1.77}, {"id": "c10", "nu": 17.5, "x": 13.08, "y": 1.3},
      {"id": "c10", "nu": 17.5, "x": 14.11, "y": 0.72}, {"id": "c10", "nu": 17.5, "x": 14.42, "y": 0.01}, {"id": "c10", "nu": 17.5, "x": 14.11, "y": -0.81}, {"id": "c10", "nu": 17.5, "x": 13.08, "y": -1.39},
      {"id": "c10", "nu": 17.5, "x": 11.63, "y": -1.68}, {"id": "c10", "nu": 17.5, "x": 9.98, "y": -1.77}, {"id": "c10", "nu": 17.5, "x": 7.91, "y": -1.74}, {"id": "c10", "nu": 17.5, "x": 6.26, "y": -1.68},
      {"id": "c10", "nu": 17.5, "x": 6.05, "y": -1.98}, {"id": "c10", "nu": 17.5, "x": 6.47, "y": -2.68}, {"id": "c10", "nu": 17.5, "x": 7.09, "y": -3.5}, {"id": "c10", "nu": 17.5, "x": 7.19, "y": -4.08},
      {"id": "c10", "nu": 17.5, "x": 6.67, "y": -4.44}, {"id": "c10", "nu": 17.5, "x": 5.43, "y": -4.55}, {"id": "c10", "nu": 17.5, "x": 3.78, "y": -4.55}, {"id": "c10", "nu": 17.5, "x": 1.71, "y": -4.2},
      {"id": "c10", "nu": 17.5, "x": 0.27, "y": -3.5}, {"id": "c10", "nu": 17.5, "x": -0.56, "y": -2.56}, {"id": "c10", "nu": 17.5, "x": -1.07, "y": -1.39}, {"id": "c10", "nu": 17.5, "x": -1.28, "y": -0.1},
      {"id": "c10", "nu": 17.5, "x": -1.07, "y": 0.72}, {"id": "c10", "nu": 17.5, "x": -0.76, "y": 1.89}, {"id": "c10", "nu": 17.5, "x": -0.14, "y": 3.06}, {"id": "c10", "nu": 17.5, "x": 0.89, "y": 3.88},
      {"id": "c10", "nu": 17.5, "x": 2.13, "y": 4.35},
      {"id": "c11", "nu": 22.5, "x": 2.13, "y": 3.88}, {"id": "c11", "nu": 22.5, "x": 3.78, "y": 3.85}, {"id": "c11", "nu": 22.5, "x": 4.81, "y": 3.59}, {"id": "c11", "nu": 22.5, "x": 5.12, "y": 3.06},
      {"id": "c11", "nu": 22.5, "x": 5.12, "y": 2.36}, {"id": "c11", "nu": 22.5, "x": 4.86, "y": 1.65}, {"id": "c11", "nu": 22.5, "x": 4.71, "y": 1.19}, {"id": "c11", "nu": 22.5, "x": 5.64, "y": 0.6},
      {"id": "c11", "nu": 22.5, "x": 6.36, "y": 0.13}, {"id": "c11", "nu": 22.5, "x": 5.85, "y": -0.34}, {"id": "c11", "nu": 22.5, "x": 4.71, "y": -0.81}, {"id": "c11", "nu": 22.5, "x": 4.71, "y": -1.39},
      {"id": "c11", "nu": 22.5, "x": 5.02, "y": -2.21}, {"id": "c11", "nu": 22.5, "x": 5.12, "y": -3.03}, {"id": "c11", "nu": 22.5, "x": 4.81, "y": -3.5}, {"id": "c11", "nu": 22.5, "x": 3.78, "y": -3.79},
      {"id": "c11", "nu": 22.5, "x": 2.13, "y": -3.79}, {"id": "c11", "nu": 22.5, "x": 0.89, "y": -3.5}, {"id": "c11", "nu": 22.5, "x": 0.06, "y": -2.91}, {"id": "c11", "nu": 22.5, "x": -0.56, "y": -1.98},
      {"id": "c11", "nu": 22.5, "x": -0.87, "y": -1.04}, {"id": "c11", "nu": 22.5, "x": -0.97, "y": -0.1}, {"id": "c11", "nu": 22.5, "x": -0.87, "y": 0.95}, {"id": "c11", "nu": 22.5, "x": -0.56, "y": 2.0},
      {"id": "c11", "nu": 22.5, "x": 0.06, "y": 2.82}, {"id": "c11", "nu": 22.5, "x": 0.99, "y": 3.53},
      {"id": "c12", "nu": 27.5, "x": 0.89, "y": 3.29}, {"id": "c12", "nu": 27.5, "x": 2.54, "y": 3.41}, {"id": "c12", "nu": 27.5, "x": 3.57, "y": 3.06}, {"id": "c12", "nu": 27.5, "x": 3.88, "y": 2.36},
      {"id": "c12", "nu": 27.5, "x": 3.78, "y": 1.42}, {"id": "c12", "nu": 27.5, "x": 3.57, "y": 0.48}, {"id": "c12", "nu": 27.5, "x": 3.68, "y": -0.45}, {"id": "c12", "nu": 27.5, "x": 3.78, "y": -1.39},
      {"id": "c12", "nu": 27.5, "x": 3.78, "y": -2.33}, {"id": "c12", "nu": 27.5, "x": 3.37, "y": -3.03}, {"id": "c12", "nu": 27.5, "x": 2.33, "y": -3.32}, {"id": "c12", "nu": 27.5, "x": 1.09, "y": -3.21},
      {"id": "c12", "nu": 27.5, "x": 0.27, "y": -2.68}, {"id": "c12", "nu": 27.5, "x": -0.25, "y": -1.63}, {"id": "c12", "nu": 27.5, "x": -0.56, "y": -0.22}, {"id": "c12", "nu": 27.5, "x": -0.45, "y": 1.19},
      {"id": "c12", "nu": 27.5, "x": -0.14, "y": 2.24}, {"id": "c12", "nu": 27.5, "x": 0.27, "y": 2.94},
      {"id": "c13", "nu": 32.5, "x": 3.05, "y": 0.1}, {"id": "c13", "nu": 32.5, "x": 2.83, "y": 1.55}, {"id": "c13", "nu": 32.5, "x": 2.23, "y": 2.61}, {"id": "c13", "nu": 32.5, "x": 1.4, "y": 3.0},
      {"id": "c13", "nu": 32.5, "x": 0.58, "y": 2.61}, {"id": "c13", "nu": 32.5, "x": -0.03, "y": 1.55}, {"id": "c13", "nu": 32.5, "x": -0.25, "y": 0.1}, {"id": "c13", "nu": 32.5, "x": -0.03, "y": -1.35},
      {"id": "c13", "nu": 32.5, "x": 0.58, "y": -2.41}, {"id": "c13", "nu": 32.5, "x": 1.4, "y": -2.8}, {"id": "c13", "nu": 32.5, "x": 2.23, "y": -2.41}, {"id": "c13", "nu": 32.5, "x": 2.83, "y": -1.35},
      {"id": "c14", "nu": 37.5, "x": 2.54, "y": 0.04}, {"id": "c14", "nu": 37.5, "x": 2.37, "y": 1.26}, {"id": "c14", "nu": 37.5, "x": 1.92, "y": 2.14}, {"id": "c14", "nu": 37.5, "x": 1.3, "y": 2.47},
      {"id": "c14", "nu": 37.5, "x": 0.68, "y": 2.14}, {"id": "c14", "nu": 37.5, "x": 0.23, "y": 1.26}, {"id": "c14", "nu": 37.5, "x": 0.06, "y": 0.04}, {"id": "c14", "nu": 37.5, "x": 0.23, "y": -1.18},
      {"id": "c14", "nu": 37.5, "x": 0.68, "y": -2.06}, {"id": "c14", "nu": 37.5, "x": 1.3, "y": -2.39}, {"id": "c14", "nu": 37.5, "x": 1.92, "y": -2.06}, {"id": "c14", "nu": 37.5, "x": 2.37, "y": -1.18},
      {"id": "c15", "nu": 42.5, "x": 2.33, "y": -0.02}, {"id": "c15", "nu": 42.5, "x": 2.2, "y": 1.08}, {"id": "c15", "nu": 42.5, "x": 1.83, "y": 1.89}, {"id": "c15", "nu": 42.5, "x": 1.33, "y": 2.18},
      {"id": "c15", "nu": 42.5, "x": 0.83, "y": 1.89}, {"id": "c15", "nu": 42.5, "x": 0.46, "y": 1.08}, {"id": "c15", "nu": 42.5, "x": 0.33, "y": -0.02}, {"id": "c15", "nu": 42.5, "x": 0.46, "y": -1.12},
      {"id": "c15", "nu": 42.5, "x": 0.83, "y": -1.93}, {"id": "c15", "nu": 42.5, "x": 1.33, "y": -2.22}, {"id": "c15", "nu": 42.5, "x": 1.83, "y": -1.93}, {"id": "c15", "nu": 42.5, "x": 2.2, "y": -1.12},
      {"id": "c16", "nu": 47.5, "x": 1.72, "y": 0.01}, {"id": "c16", "nu": 47.5, "x": 1.54, "y": 1.17}, {"id": "c16", "nu": 47.5, "x": 1.1, "y": 1.65}, {"id": "c16", "nu": 47.5, "x": 0.66, "y": 1.17},
      {"id": "c16", "nu": 47.5, "x": 0.48, "y": 0.01}, {"id": "c16", "nu": 47.5, "x": 0.66, "y": -1.15}, {"id": "c16", "nu": 47.5, "x": 1.1, "y": -1.63}, {"id": "c16", "nu": 47.5, "x": 1.54, "y": -1.15},
      {"id": "c17", "nu": 52.5, "x": 1.4, "y": 0.07}, {"id": "c17", "nu": 52.5, "x": 1.28, "y": 0.94}, {"id": "c17", "nu": 52.5, "x": 0.99, "y": 1.3}, {"id": "c17", "nu": 52.5, "x": 0.7, "y": 0.94},
      {"id": "c17", "nu": 52.5, "x": 0.58, "y": 0.07}, {"id": "c17", "nu": 52.5, "x": 0.7, "y": -0.8}, {"id": "c17", "nu": 52.5, "x": 0.99, "y": -1.16}, {"id": "c17", "nu": 52.5, "x": 1.28, "y": -0.8},
      {"id": "c18", "nu": 57.5, "x": 1.14, "y": 0.07}, {"id": "c18", "nu": 57.5, "x": 1.07, "y": 0.61}, {"id": "c18", "nu": 57.5, "x": 0.89, "y": 0.83}, {"id": "c18", "nu": 57.5, "x": 0.71, "y": 0.61},
      {"id": "c18", "nu": 57.5, "x": 0.64, "y": 0.07}, {"id": "c18", "nu": 57.5, "x": 0.71, "y": -0.47}, {"id": "c18", "nu": 57.5, "x": 0.89, "y": -0.69}, {"id": "c18", "nu": 57.5, "x": 1.07, "y": -0.47}
    ],
    "d1": [
      {"id": "d01", "nu": 12.5, "x": -10, "y": 8}, {"id": "d01", "nu": 12.5, "x": 20, "y": 8}, {"id": "d01", "nu": 12.5, "x": 20, "y": -8}, {"id": "d01", "nu": 12.5, "x": -10, "y": -8},
      {"id": "d02", "nu": 17.5, "x": 20, "y": 1.5}, {"id": "d02", "nu": 17.5, "x": 14.16, "y": 1.74}, {"id": "d02", "nu": 17.5, "x": 12.09, "y": 1.8}, {"id": "d02", "nu": 17.5, "x": 10.02, "y": 1.77},
      {"id": "d02", "nu": 17.5, "x": 7.95, "y": 1.54}, {"id": "d02", "nu": 17.5, "x": 6.5, "y": 1.18}, {"id": "d02", "nu": 17.5, "x": 5.05, "y": 0.71}, {"id": "d02", "nu": 17.5, "x": 3.81, "y": 0.24},
      {"id": "d02", "nu": 17.5, "x": 3.71, "y": -0.05}, {"id": "d02", "nu": 17.5, "x": 4.22, "y": -0.4}, {"id": "d02", "nu": 17.5, "x": 6.09, "y": -1.11}, {"id": "d02", "nu": 17.5, "x": 7.95, "y": -1.64},
      {"id": "d02", "nu": 17.5, "x": 10.02, "y": -1.85}, {"id": "d02", "nu": 17.5, "x": 12.09, "y": -1.91}, {"id": "d02", "nu": 17.5, "x": 14.16, "y": -1.84}, {"id": "d02", "nu": 17.5, "x": 20, "y": -1.61}
    ]
  },
  "vconcat": [
    {
      "width": 1302,
      "height": 42,
      "view": {"stroke": null},
      "data": {"name": "bar"},
      "mark": {"type": "rect"},
      "encoding": {
        "x": {
          "field": "lo", "type": "quantitative",
          "scale": {"domain": [-9.38, 83.93], "nice": false, "zero": false},
          "axis": {"values": [0, 10, 20, 30, 40, 50, 60, 70, 80], "grid": false, "domain": false, "labelPadding": 13,
                   "title": "Nu", "titleX": 62, "titleY": 65, "titleAlign": "right", "titleAnchor": "start", "titleBaseline": "alphabetic"}
        },
        "x2": {"field": "hi"},
        "color": {
          "field": "nu", "type": "quantitative", "legend": null,
          "scale": {"type": "threshold", "domain": [0, 5, 10, 15, 20, 25, 30, 35, 40, 45, 50, 55, 60, 65, 70, 75, 80],
                    "range": ["#0000ff", "#003cff", "#0078ff", "#00b4ff", "#00f0ff", "#00ffd2", "#00ff96", "#00ff5a", "#00ff1e", "#1eff00", "#5aff00", "#96ff00", "#d2ff00", "#fff000", "#ffb400", "#ff7800", "#ff3c00", "#ff0000"]}
        }
      }
    },
    {
      "width": 1302, "height": 648,
      "title": {"text": "(a) M=0"},
      "encoding": {
        "x": {"field": "x", "type": "quantitative", "scale": {"domain": [-10, 20], "nice": false, "zero": false},
              "axis": {"values": [-10, -9, -8, -7, -6, -5, -4, -3, -2, -1, 0, 1, 2, 3, 4, 5, 6, 7, 8, 9, 10, 11, 12, 13, 14, 15, 16, 17, 18, 19, 20],
                       "labelExpr": "datum.value % 5 === 0 ? datum.label : ''",
                       "gridDash": {"condition": {"test": "datum.value % 5 === 0", "value": [28, 3000]}, "value": [17, 3000]},
                       "title": "x/d", "titleY": 159, "titleBaseline": "alphabetic", "labelPadding": 18}},
        "y": {"field": "y", "type": "quantitative", "scale": {"domain": [-8, 8], "nice": false, "zero": false},
              "axis": {"values": [-8, -7, -6, -5, -4, -3, -2, -1, 0, 1, 2, 3, 4, 5, 6, 7, 8],
                       "labelExpr": "datum.value % 4 === 0 ? datum.label : ''",
                       "gridDash": {"condition": {"test": "datum.value % 4 === 0", "value": [28, 3000]}, "value": [18, 3000]},
                       "title": "y/d", "titleX": -180, "titleBaseline": "middle", "labelPadding": 26}},
        "detail": {"field": "id"},
        "order": {"value": null},
        "color": {"field": "nu", "type": "quantitative", "legend": null,
                  "scale": {"type": "threshold", "domain": [0, 5, 10, 15, 20, 25, 30, 35, 40, 45, 50, 55, 60, 65, 70, 75, 80],
                            "range": ["#0000ff", "#003cff", "#0078ff", "#00b4ff", "#00f0ff", "#00ffd2", "#00ff96", "#00ff5a", "#00ff1e", "#1eff00", "#5aff00", "#96ff00", "#d2ff00", "#fff000", "#ffb400", "#ff7800", "#ff3c00", "#ff0000"]}}
      },
      "layer": [
        {"data": {"name": "a1"}, "mark": {"type": "line", "filled": true, "interpolate": "linear-closed", "clip": true}},
        {"data": {"name": "a2"}, "mark": {"type": "line", "filled": true, "interpolate": "cardinal-closed", "clip": true}}
      ]
    },
    {"width": 1302, "height": 130, "view": {"stroke": null}, "data": {"name": "gap"}, "mark": {"type": "point", "opacity": 0}, "encoding": {}},
    {
      "width": 1302, "height": 648,
      "title": {"text": "(b) M=0.1"},
      "encoding": {
        "x": {"field": "x", "type": "quantitative", "scale": {"domain": [-10, 20], "nice": false, "zero": false},
              "axis": {"values": [-10, -9, -8, -7, -6, -5, -4, -3, -2, -1, 0, 1, 2, 3, 4, 5, 6, 7, 8, 9, 10, 11, 12, 13, 14, 15, 16, 17, 18, 19, 20],
                       "labelExpr": "datum.value % 5 === 0 ? datum.label : ''",
                       "gridDash": {"condition": {"test": "datum.value % 5 === 0", "value": [28, 3000]}, "value": [17, 3000]},
                       "title": "x/d", "titleY": 159, "titleBaseline": "alphabetic", "labelPadding": 18}},
        "y": {"field": "y", "type": "quantitative", "scale": {"domain": [-8, 8], "nice": false, "zero": false},
              "axis": {"values": [-8, -7, -6, -5, -4, -3, -2, -1, 0, 1, 2, 3, 4, 5, 6, 7, 8],
                       "labelExpr": "datum.value % 4 === 0 ? datum.label : ''",
                       "gridDash": {"condition": {"test": "datum.value % 4 === 0", "value": [28, 3000]}, "value": [18, 3000]},
                       "title": "y/d", "titleX": -180, "titleBaseline": "middle", "labelPadding": 26}},
        "detail": {"field": "id"},
        "order": {"value": null},
        "color": {"field": "nu", "type": "quantitative", "legend": null,
                  "scale": {"type": "threshold", "domain": [0, 5, 10, 15, 20, 25, 30, 35, 40, 45, 50, 55, 60, 65, 70, 75, 80],
                            "range": ["#0000ff", "#003cff", "#0078ff", "#00b4ff", "#00f0ff", "#00ffd2", "#00ff96", "#00ff5a", "#00ff1e", "#1eff00", "#5aff00", "#96ff00", "#d2ff00", "#fff000", "#ffb400", "#ff7800", "#ff3c00", "#ff0000"]}}
      },
      "layer": [
        {"data": {"name": "b1"}, "mark": {"type": "line", "filled": true, "interpolate": "linear-closed", "clip": true}},
        {"data": {"name": "b2"}, "mark": {"type": "line", "filled": true, "interpolate": "cardinal-closed", "clip": true}}
      ]
    },
    {"width": 1302, "height": 130, "view": {"stroke": null}, "data": {"name": "gap"}, "mark": {"type": "point", "opacity": 0}, "encoding": {}},
    {
      "width": 1302, "height": 648,
      "title": {"text": "(c) M=0.2"},
      "encoding": {
        "x": {"field": "x", "type": "quantitative", "scale": {"domain": [-10, 20], "nice": false, "zero": false},
              "axis": {"values": [-10, -9, -8, -7, -6, -5, -4, -3, -2, -1, 0, 1, 2, 3, 4, 5, 6, 7, 8, 9, 10, 11, 12, 13, 14, 15, 16, 17, 18, 19, 20],
                       "labelExpr": "datum.value % 5 === 0 ? datum.label : ''",
                       "gridDash": {"condition": {"test": "datum.value % 5 === 0", "value": [28, 3000]}, "value": [17, 3000]},
                       "title": "x/d", "titleY": 159, "titleBaseline": "alphabetic", "labelPadding": 18}},
        "y": {"field": "y", "type": "quantitative", "scale": {"domain": [-8, 8], "nice": false, "zero": false},
              "axis": {"values": [-8, -7, -6, -5, -4, -3, -2, -1, 0, 1, 2, 3, 4, 5, 6, 7, 8],
                       "labelExpr": "datum.value % 4 === 0 ? datum.label : ''",
                       "gridDash": {"condition": {"test": "datum.value % 4 === 0", "value": [28, 3000]}, "value": [18, 3000]},
                       "title": "y/d", "titleX": -180, "titleBaseline": "middle", "labelPadding": 26}},
        "detail": {"field": "id"},
        "order": {"value": null},
        "color": {"field": "nu", "type": "quantitative", "legend": null,
                  "scale": {"type": "threshold", "domain": [0, 5, 10, 15, 20, 25, 30, 35, 40, 45, 50, 55, 60, 65, 70, 75, 80],
                            "range": ["#0000ff", "#003cff", "#0078ff", "#00b4ff", "#00f0ff", "#00ffd2", "#00ff96", "#00ff5a", "#00ff1e", "#1eff00", "#5aff00", "#96ff00", "#d2ff00", "#fff000", "#ffb400", "#ff7800", "#ff3c00", "#ff0000"]}}
      },
      "layer": [
        {"data": {"name": "c1"}, "mark": {"type": "line", "filled": true, "interpolate": "linear-closed", "clip": true}},
        {"data": {"name": "c2"}, "mark": {"type": "line", "filled": true, "interpolate": "cardinal-closed", "clip": true}}
      ]
    },
    {"width": 1302, "height": 130, "view": {"stroke": null}, "data": {"name": "gap"}, "mark": {"type": "point", "opacity": 0}, "encoding": {}},
    {
      "width": 1302, "height": 648,
      "title": {"text": "(d) M=0.4"},
      "data": {"name": "d1"},
      "mark": {"type": "line", "filled": true, "interpolate": "linear-closed", "clip": true},
      "encoding": {
        "x": {"field": "x", "type": "quantitative", "scale": {"domain": [-10, 20], "nice": false, "zero": false},
              "axis": {"values": [-10, -9, -8, -7, -6, -5, -4, -3, -2, -1, 0, 1, 2, 3, 4, 5, 6, 7, 8, 9, 10, 11, 12, 13, 14, 15, 16, 17, 18, 19, 20],
                       "labelExpr": "datum.value % 5 === 0 ? datum.label : ''",
                       "gridDash": {"condition": {"test": "datum.value % 5 === 0", "value": [28, 3000]}, "value": [17, 3000]},
                       "title": "x/d", "titleY": 159, "titleBaseline": "alphabetic", "labelPadding": 18}},
        "y": {"field": "y", "type": "quantitative", "scale": {"domain": [-8, 8], "nice": false, "zero": false},
              "axis": {"values": [-8, -7, -6, -5, -4, -3, -2, -1, 0, 1, 2, 3, 4, 5, 6, 7, 8],
                       "labelExpr": "datum.value % 4 === 0 ? datum.label : ''",
                       "gridDash": {"condition": {"test": "datum.value % 4 === 0", "value": [28, 3000]}, "value": [18, 3000]},
                       "title": "y/d", "titleX": -180, "titleBaseline": "middle", "labelPadding": 26}},
        "detail": {"field": "id"},
        "order": {"value": null},
        "color": {"field": "nu", "type": "quantitative", "legend": null,
                  "scale": {"type": "threshold", "domain": [0, 5, 10, 15, 20, 25, 30, 35, 40, 45, 50, 55, 60, 65, 70, 75, 80],
                            "range": ["#0000ff", "#003cff", "#0078ff", "#00b4ff", "#00f0ff", "#00ffd2", "#00ff96", "#00ff5a", "#00ff1e", "#1eff00", "#5aff00", "#96ff00", "#d2ff00", "#fff000", "#ffb400", "#ff7800", "#ff3c00", "#ff0000"]}}
      }
    },
    {"width": 1302, "height": 190, "view": {"stroke": null}, "data": {"name": "gap"}, "mark": {"type": "point", "opacity": 0}, "encoding": {}}
  ]
}
